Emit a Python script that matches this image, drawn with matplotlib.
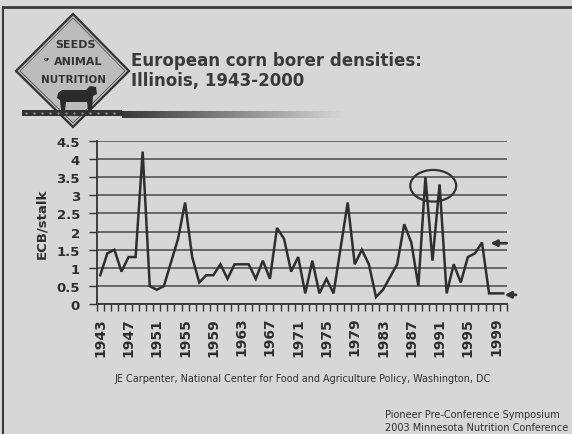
import numpy as np
import matplotlib.pyplot as plt
from matplotlib.patches import Ellipse, Polygon, Rectangle

# European corn borer densities, Illinois (ECB per stalk)
years = list(range(1943, 2001))
ecb = [0.8, 1.4, 1.5, 0.9, 1.3, 1.3, 4.2, 0.5, 0.4, 0.5,
       1.15, 1.8, 2.8, 1.3, 0.6, 0.8, 0.8, 1.1, 0.7, 1.1,
       1.1, 1.1, 0.7, 1.2, 0.7, 2.1, 1.8, 0.9, 1.3, 0.3,
       1.2, 0.3, 0.7, 0.3, 1.55, 2.8, 1.1, 1.5, 1.1, 0.2,
       0.4, 0.75, 1.1, 2.2, 1.7, 0.5, 3.5, 1.2, 3.3, 0.3,
       1.1, 0.6, 1.3, 1.4, 1.7, 0.3, 0.3, 0.3]
label_years = years[::4]
y_ticks = [0, 0.5, 1, 1.5, 2, 2.5, 3, 3.5, 4, 4.5]

bg = '#d7d7d7'
ink = '#2e2e2e'

fig = plt.figure(figsize=(5.72, 4.35), dpi=100, facecolor=bg)

# decoration layer in pixel coordinates
deco = fig.add_axes([0, 0, 1, 1])
deco.set_xlim(0, 572)
deco.set_ylim(435, 0)
deco.axis('off')
deco.set_facecolor(bg)

# slide frame
deco.plot([3, 572], [8, 8], color='#3a3a3a', lw=2)
deco.plot([3, 3], [8, 435], color='#3a3a3a', lw=1.5)

# logo diamond
deco.add_patch(Polygon([(73, 15), (129, 72), (73, 128), (16, 72)],
                       closed=True, facecolor='#bcbcbc', edgecolor='#333333', lw=1.6))
deco.add_patch(Polygon([(73, 19), (125, 72), (73, 124), (20, 72)],
                       closed=True, fill=False, edgecolor='#555555', lw=0.6))
deco.text(75, 45, 'SEEDS', ha='center', va='center', fontsize=8, weight='bold', color='#333333')
deco.text(47, 60, 'OF', ha='center', va='center', fontsize=3, weight='bold', color='#333333')
deco.text(78, 62, 'ANIMAL', ha='center', va='center', fontsize=8, weight='bold', color='#333333')
deco.text(73, 80, 'NUTRITION', ha='center', va='center', fontsize=7.5, weight='bold', color='#333333')
# cow silhouette
cow = [(58, 94), (62, 91), (86, 91), (90, 87), (96, 88), (97, 95), (93, 97),
       (92, 111), (88, 111), (87, 103), (66, 103), (65, 111), (61, 111), (60, 101), (57, 99)]
deco.add_patch(Polygon(cow, closed=True, facecolor='#2b2b2b', edgecolor='none'))
deco.add_patch(Rectangle((22, 111), 100, 6, facecolor='#333333', edgecolor='none'))
for x in range(26, 120, 8):
    deco.plot(x, 114, marker='.', ms=1.2, color='#999999')

# gradient bar under title
grad = np.linspace(0, 1, 200).reshape(1, -1)
deco.imshow(grad, extent=(122, 345, 119, 112), cmap='gray', vmin=-0.35, vmax=1.25,
            aspect='auto', interpolation='bilinear')
deco.set_xlim(0, 572)
deco.set_ylim(435, 0)

deco.text(131, 71, 'European corn borer densities:\nIllinois, 1943-2000', ha='left', va='center',
          fontsize=12, weight='bold', color='#3a3a3a', linespacing=1.2)

deco.text(303, 379, 'JE Carpenter, National Center for Food and Agriculture Policy, Washington, DC',
          ha='center', va='center', fontsize=6.9, color=ink)
deco.text(385, 415, 'Pioneer Pre-Conference Symposium', ha='left', va='center',
          fontsize=7, color=ink)
deco.text(385, 428, '2003 Minnesota Nutrition Conference', ha='left', va='center',
          fontsize=7, color=ink)

# chart
ax = fig.add_axes([0.1691, 0.2982, 0.7168, 0.3761])
ax.set_facecolor(bg)
x = np.arange(len(years))
ax.plot(x, ecb, color='#2f2f2f', lw=1.8, solid_joinstyle='miter')

ax.set_xlim(-0.5, len(years) - 0.5)
ax.set_ylim(0, 4.5)
ax.set_yticks(y_ticks)
ax.set_yticklabels([f'{v:g}' for v in y_ticks], fontsize=9.5, weight='bold', color=ink)
ax.yaxis.grid(True, color='#4a4a4a', lw=1.1)
ax.set_axisbelow(True)

ax.set_xticks([years.index(yr) for yr in label_years])
ax.set_xticklabels([str(yr) for yr in label_years], rotation=90, fontsize=10,
                   weight='bold', color=ink)
ax.set_xticks(np.arange(-0.5, len(years), 1), minor=True)
ax.tick_params(axis='x', which='major', length=0, pad=9)
ax.tick_params(axis='x', which='minor', length=5, width=1, color='#333333', direction='out')
ax.tick_params(axis='y', length=6, width=1, color='#333333', direction='out', pad=6)

for s in ['top', 'right']:
    ax.spines[s].set_visible(False)
ax.spines['left'].set_color('#333333')
ax.spines['left'].set_linewidth(1.3)
ax.spines['bottom'].set_color('#333333')
ax.spines['bottom'].set_linewidth(1.3)

ax.set_ylabel('ECB/stalk', fontsize=9.5, weight='bold', color=ink, labelpad=6)

# highlight around the 1989-1991 peaks and the arrows at the right
ax.add_patch(Ellipse((47.1, 3.26), 6.5, 0.87, fill=False, edgecolor='#333333', lw=1.6))
ax.annotate('', xy=(54.8, 1.68), xytext=(57.9, 1.68), annotation_clip=False,
            arrowprops=dict(arrowstyle='-|>', color='#333333', lw=2, mutation_scale=9))
ax.annotate('', xy=(56.8, 0.26), xytext=(59.2, 0.26), annotation_clip=False,
            arrowprops=dict(arrowstyle='-|>', color='#333333', lw=2, mutation_scale=9))

fig.savefig('out.png', dpi=100, facecolor=bg)
